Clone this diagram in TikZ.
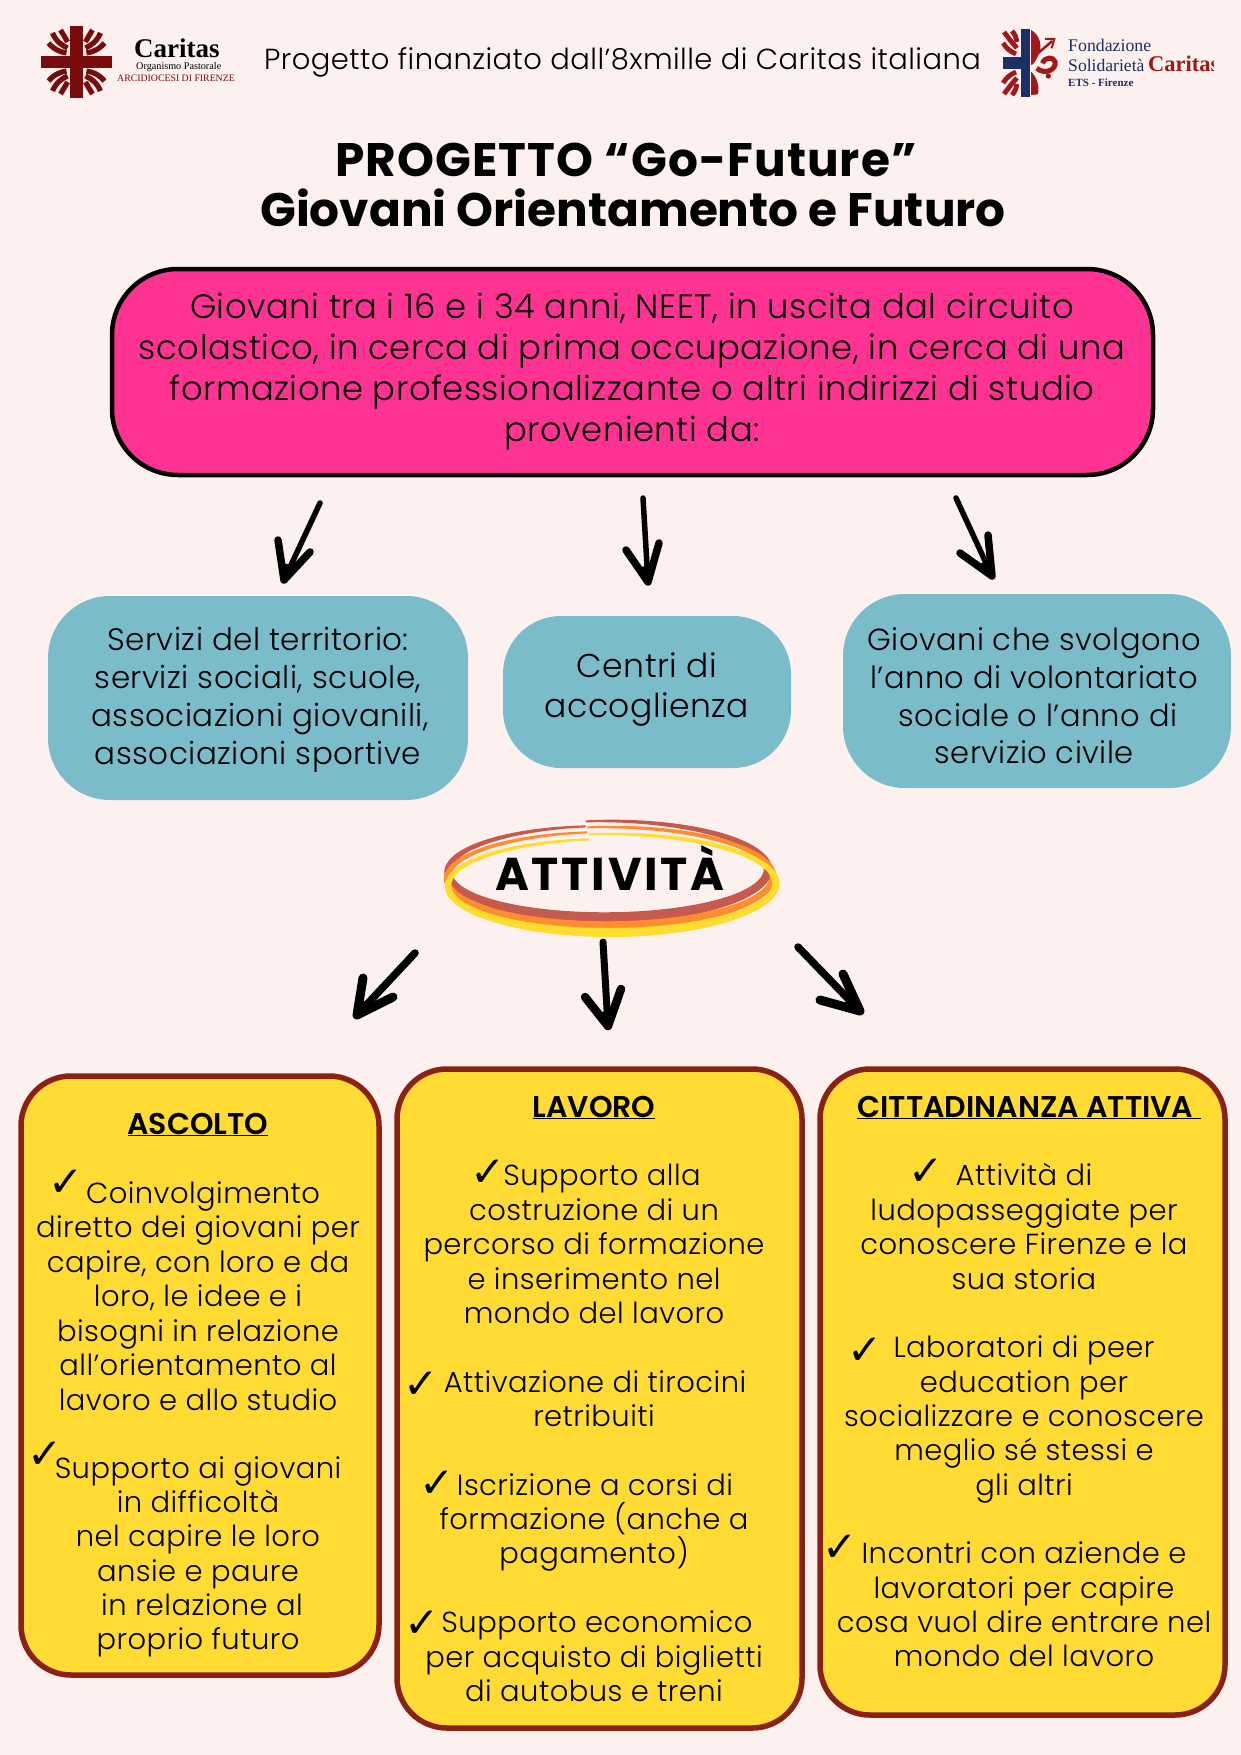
\documentclass[tikz,border=0pt]{standalone}
\usepackage{fontspec}
\usetikzlibrary{calc}
\setmainfont{Poppins Light}[LetterSpace=1.5]
\newfontfamily\titlef{Poppins Bold}
\newfontfamily\titlesp{Poppins Bold}[LetterSpace=2.3]
\newfontfamily\headf{Poppins SemiBold}
\newfontfamily\attf{Poppins Bold}[LetterSpace=6]
\newfontfamily\chkf{DejaVu Sans}
\newfontfamily\serf{Liberation Serif}
\definecolor{bgc}{HTML}{FDF1EF}
\definecolor{pinkc}{HTML}{FF3492}
\definecolor{bluec}{HTML}{7BBCCB}
\definecolor{yelc}{HTML}{FFDB33}
\definecolor{brd}{HTML}{8A2213}
\definecolor{crossc}{HTML}{7A0B0B}
\definecolor{navyc}{HTML}{1C2E66}
\definecolor{redc}{HTML}{A01818}
\definecolor{b1}{HTML}{C55A4E}
\definecolor{b2}{HTML}{FF8C2E}
\definecolor{b3}{HTML}{FFDD2E}
\tikzset{
  bl/.style={anchor=base,inner sep=0pt,font=\fontsize{29}{34}\selectfont},
  sl/.style={anchor=base,inner sep=0pt,font=\fontsize{31}{36}\selectfont},
  gl/.style={anchor=base,inner sep=0pt,font=\fontsize{30.5}{36}\selectfont},
  cl/.style={anchor=base,inner sep=0pt,font=\fontsize{33}{38}\selectfont},
  ml/.style={anchor=base,inner sep=0pt,font=\fontsize{33.8}{40}\selectfont},
  hd/.style={anchor=base,inner sep=0pt,font=\headf\fontsize{30}{34}\selectfont},
  tt/.style={anchor=base,inner sep=0pt,font=\titlef\fontsize{47}{52}\selectfont},
  ck/.style={inner sep=0pt,font=\chkf\fontsize{42}{42}\selectfont},
  lg/.style={anchor=base west,inner sep=0pt},
  arw/.style={draw=black,line cap=round,line join=round},
  petal/.style={draw=crossc,line width=5.2pt,line cap=butt},
  rpetal/.style={draw=redc,line width=4.8pt,line cap=butt},
}
% name, tail, tip, wing, wing, shaft width, wing width
\newcommand{\handarrow}[7]{%
  \coordinate (#1t) at #2; \coordinate (#1h) at #3;
  \coordinate (#1l) at #4; \coordinate (#1r) at #5;
  \draw[arw,line width=#6pt] (#1t) -- (#1h);
  \draw[arw,line width=#7pt] (#1l) -- (#1h) -- (#1r);
  \fill[black] (#1h) -- ($(#1h)!0.45!(#1l)$) -- ($(#1h)!0.45!(#1r)$) -- cycle;
}
% brush stroke: colour, cx, cy, rx, ry, y drift, w0, w1
\newcommand{\brushring}[8]{%
  \fill[#1] plot[smooth,samples=90,domain=-8:352,variable=\t]
    ({#2+(#4+(#7+#8*sin(\t/2+4))/2)*sin(\t)},{#3+#6*\t/360-(#5+(#7+#8*sin(\t/2+4))/2)*cos(\t)})
    -- plot[smooth,samples=90,domain=352:-8,variable=\t]
    ({#2+(#4-(#7+#8*sin(\t/2+4))/2)*sin(\t)},{#3+#6*\t/360-(#5-(#7+#8*sin(\t/2+4))/2)*cos(\t)})
    -- cycle;
}
\newcommand{\petals}{%
  \draw[petal] (-10,-9) .. controls (-16,-10) and (-22,-12) .. (-28,-19);
  \draw[petal] (-9,-14) .. controls (-15,-17) and (-20,-20) .. (-24,-29);
  \draw[petal] (-9,-20) .. controls (-11,-24) and (-13,-27) .. (-16,-32);
}
\newcommand{\rpetals}{%
  \draw[rpetal] (-9,-9) .. controls (-14,-11) and (-18,-14) .. (-22,-20);
  \draw[rpetal] (-8,-15) .. controls (-12,-19) and (-15,-23) .. (-21,-31);
  \draw[rpetal] (-8,-21) .. controls (-9,-25) and (-10,-29) .. (-13,-32);
}
\begin{document}
\begin{tikzpicture}[x=1pt,y=-1pt]
\useasboundingbox (0,0) rectangle (1241,1755);
\fill[bgc] (0,0) rectangle (1241,1755);

% left logo
\begin{scope}[shift={(76.5,62)}]
  \petals
  \begin{scope}[xscale=-1]\petals\end{scope}
  \begin{scope}[yscale=-1]\petals\end{scope}
  \begin{scope}[xscale=-1,yscale=-1]\petals\end{scope}
  \fill[crossc] (-6.5,-36) rectangle (6.5,36);
  \fill[crossc] (-35.5,-6) rectangle (35.5,6);
\end{scope}
\node[lg,font=\serf\bfseries\fontsize{27}{27}\selectfont] (lc) at (134,58) {Caritas};
\node[lg,font=\serf\fontsize{10.2}{11}\selectfont] (lo) at (136,70) {Organismo Pastorale};
\node[lg,font=\serf\fontsize{9.8}{11}\selectfont,text=crossc] (la) at (117,82) {ARCIDIOCESI DI FIRENZE};

% right logo
\begin{scope}[shift={(1025,63)}]
  \rpetals
  \begin{scope}[yscale=-1]\rpetals\end{scope}
\end{scope}
\begin{scope}[shift={(995,15)},x=0.3333pt,y=-0.3333pt]
  \fill[redc] (108,45) .. controls (135,60) and (145,95) .. (128,125)
     .. controls (120,140) and (115,150) .. (108,150) -- cycle;
  \fill[redc] (108,170) .. controls (125,185) and (135,215) .. (128,238)
     -- (108,240) -- cycle;
  \draw[redc,line width=2.5pt] (125,118) -- (172,78);
  \draw[redc,line width=2pt] (150,72) -- (178,72) -- (170,100);
  \draw[redc,line width=5pt] (125,160) .. controls (150,180) and (185,165) .. (180,140)
     .. controls (175,125) and (150,125) .. (142,145);
  \fill[redc] (160,183) circle[radius=8];
\end{scope}
\fill[navyc] (1021,29) rectangle (1030,97);
\fill[navyc] (1003,57) rectangle (1021,69);
\node[lg,text=navyc,font=\serf\fontsize{17.8}{20}\selectfont] (fa) at (1068,52) {Fondazione};
\node[lg,text=navyc,font=\serf\fontsize{17.6}{20}\selectfont] (fb) at (1068,72) {Solidarietà};
\begin{scope}
  \clip (1146,40) rectangle (1213,85);
  \node[lg,text=redc,font=\serf\bfseries\fontsize{22.5}{26}\selectfont] (fc) at (1148,72) {Caritas};
\end{scope}
\node[lg,text=navyc,font=\serf\bfseries\fontsize{11}{12}\selectfont] (fd) at (1068,87) {ETS - Firenze};

% header + title
\node[anchor=base,inner sep=0pt,font=\fontsize{29}{34}\selectfont] (hdr) at (622.5,70) {Progetto finanziato dall’8xmille di Caritas italiana};
\node[tt,font=\titlesp\fontsize{47}{52}\selectfont] (t1) at (626,177) {PROGETTO “Go-Future”};
\node[tt] (t2) at (633,226) {Giovani Orientamento e Futuro};

% pink box
\draw[fill=pinkc,draw=black,line width=4.5pt,rounded corners=66pt] (112,269) rectangle (1153,475);
\node[ml] (p1) at (632,318) {Giovani tra i 16 e i 34 anni, NEET, in uscita dal circuito};
\node[ml] (p2) at (632,359) {scolastico, in cerca di prima occupazione, in cerca di una};
\node[ml] (p3) at (632,400) {formazione professionalizzante o altri indirizzi di studio};
\node[ml] (p4) at (632,441) {provenienti da:};

% arrows
\handarrow{aa}{(320,503)}{(284,580)}{(278,540)}{(310,552)}{5.5}{7.5}
\handarrow{ab}{(643,498)}{(648,582)}{(626,550)}{(659,543)}{5.5}{7.5}
\handarrow{ac}{(956,498)}{(992,576)}{(960,553)}{(988,535)}{5.5}{7.5}

% blue boxes
\fill[bluec,rounded corners=62pt] (48,596) rectangle (468,800);
\fill[bluec,rounded corners=58pt] (503,616) rectangle (791,768);
\fill[bluec,rounded corners=62pt] (843,594) rectangle (1231,788);
\node[sl] (s1) at (258,650) {Servizi del territorio:};
\node[sl] (s2) at (258,688) {servizi sociali, scuole,};
\node[sl] (s3) at (260,726) {associazioni giovanili,};
\node[sl] (s4) at (258,764) {associazioni sportive};
\node[cl] (c1) at (647,677) {Centri di};
\node[cl] (c2) at (647,717) {accoglienza};
\node[gl] (g1) at (1034,650) {Giovani che svolgono};
\node[gl] (g2) at (1034,688) {l’anno di volontariato};
\node[gl] (g3) at (1038,726) {sociale o l’anno di};
\node[gl] (g4) at (1034,763) {servizio civile};

% activity ring
\brushring{b1}{608}{868}{160}{47}{5}{2}{8.5}
\brushring{b2}{610}{875}{163}{48}{5}{2}{6.5}
\brushring{b3}{612}{882}{164}{48}{5}{2}{7}
\node[anchor=base,inner sep=0pt,font=\attf\fontsize{46}{50}\selectfont] (att) at (610,890) {ATTIVITÀ};

\handarrow{ba}{(415,953)}{(357,1015)}{(363,978)}{(393,997)}{7.5}{9}
\handarrow{bb}{(603,942)}{(608,1026)}{(585,997)}{(621,989)}{7}{8.5}
\handarrow{bc}{(798,947)}{(860,1011)}{(820,1000)}{(843,974)}{7.5}{9}

% yellow boxes
\draw[fill=yelc,draw=brd,line width=5.5pt,rounded corners=50pt] (21,1076) rectangle (379,1675);
\draw[fill=yelc,draw=brd,line width=5.5pt,rounded corners=50pt] (397,1069) rectangle (802,1728);
\draw[fill=yelc,draw=brd,line width=5.5pt,rounded corners=50pt] (820,1069) rectangle (1225,1715);

% box 1
\node[hd] (ah) at (198,1134) {\underline{ASCOLTO}};
\node[ck] (ak1) at (66,1183) {✓};
\node[bl] (a1) at (203,1203) {Coinvolgimento};
\node[bl] (a2) at (198,1237) {diretto dei giovani per};
\node[bl] (a3) at (198,1272) {capire, con loro e da};
\node[bl] (a4) at (198,1306) {loro, le idee e i};
\node[bl] (a5) at (198,1341) {bisogni in relazione};
\node[bl] (a6) at (198,1375) {all’orientamento al};
\node[bl] (a7) at (198,1410) {lavoro e allo studio};
\node[ck] (ak2) at (45,1455) {✓};
\node[bl] (a8) at (198,1478) {Supporto ai giovani};
\node[bl] (a9) at (198,1512) {in difficoltà};
\node[bl] (a10) at (198,1546) {nel capire le loro};
\node[bl] (a11) at (198,1581) {ansie e paure};
\node[bl] (a12) at (202,1615) {in relazione al};
\node[bl] (a13) at (198,1649) {proprio futuro};

% box 2
\node[hd] (bh) at (594,1117) {\underline{LAVORO}};
\node[ck] (bk1) at (488,1173) {✓};
\node[bl] (b01) at (602,1185) {Supporto alla};
\node[bl] (b02) at (594,1220) {costruzione di un};
\node[bl] (b03) at (594,1254) {percorso di formazione};
\node[bl] (b04) at (594,1289) {e inserimento nel};
\node[bl] (b05) at (594,1323) {mondo del lavoro};
\node[ck] (bk2) at (421,1385) {✓};
\node[bl] (b06) at (595,1392) {Attivazione di tirocini};
\node[bl] (b07) at (594,1426) {retribuiti};
\node[ck] (bk3) at (437,1484) {✓};
\node[bl] (b08) at (595,1495) {Iscrizione a corsi di};
\node[bl] (b09) at (594,1529) {formazione (anche a};
\node[bl] (b10) at (594,1563) {pagamento)};
\node[ck] (bk4) at (422,1624) {✓};
\node[bl] (b11) at (597,1632) {Supporto economico};
\node[bl] (b12) at (594,1667) {per acquisto di biglietti};
\node[bl] (b13) at (594,1701) {di autobus e treni};

% box 3
\node[hd] (ch) at (1029,1117) {\underline{CITTADINANZA ATTIVA\ }};
\node[ck] (ck1) at (926,1172) {✓};
\node[bl] (c01) at (1024,1185) {Attività di};
\node[bl] (c02) at (1024,1220) {ludopasseggiate per};
\node[bl] (c03) at (1024,1254) {conoscere Firenze e la};
\node[bl] (c04) at (1024,1289) {sua storia};
\node[ck] (ck2) at (865,1351) {✓};
\node[bl] (c05) at (1024,1357) {Laboratori di peer};
\node[bl] (c06) at (1024,1392) {education per};
\node[bl] (c07) at (1024,1426) {socializzare e conoscere};
\node[bl] (c08) at (1024,1460) {meglio sé stessi e};
\node[bl] (c09) at (1024,1495) {gli altri};
\node[ck] (ck3) at (840,1548) {✓};
\node[bl] (c10) at (1024,1563) {Incontri con aziende e};
\node[bl] (c11) at (1024,1598) {lavoratori per capire};
\node[bl] (c12) at (1024,1632) {cosa vuol dire entrare nel};
\node[bl] (c13) at (1024,1666) {mondo del lavoro};
\end{tikzpicture}
\end{document}
